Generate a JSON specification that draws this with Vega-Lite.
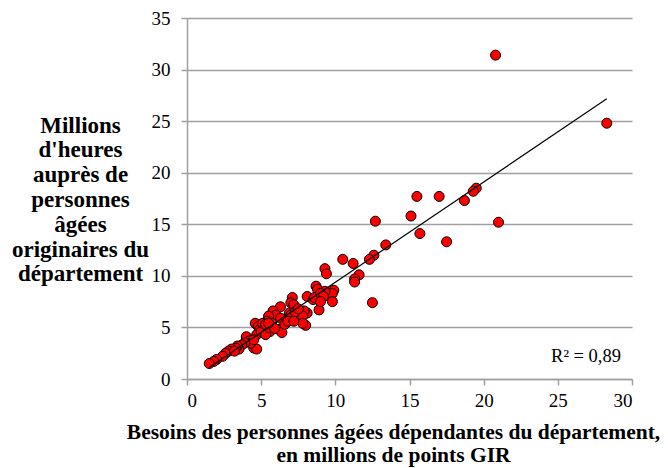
{
  "$schema": "https://vega.github.io/schema/vega-lite/v6.json",
  "width": 445,
  "height": 361,
  "autosize": {"type": "none"},
  "padding": {"left": 187, "top": 18, "right": 36, "bottom": 89},
  "background": "white",
  "config": {
    "view": {"stroke": null},
    "font": "Liberation Serif, Times New Roman, serif",
    "axis": {
      "labelFont": "Liberation Serif, Times New Roman, serif",
      "titleFont": "Liberation Serif, Times New Roman, serif",
      "labelFontSize": 19,
      "labelColor": "black",
      "titleColor": "black",
      "titleFontSize": 21.5,
      "titleFontWeight": "bold",
      "domainColor": "#a0a0a0",
      "domainWidth": 1.5,
      "tickColor": "#a0a0a0",
      "tickWidth": 1.5,
      "tickSize": 6,
      "gridColor": "#a0a0a0",
      "gridWidth": 1.5
    }
  },
  "datasets": {
    "pts": [
      {"x": 20.8, "y": 31.4}, {"x": 28.3, "y": 24.8}, {"x": 19.5, "y": 18.5}, {"x": 19.3, "y": 18.2},
      {"x": 18.7, "y": 17.3}, {"x": 17.0, "y": 17.7}, {"x": 15.5, "y": 17.7}, {"x": 15.1, "y": 15.8},
      {"x": 21.0, "y": 15.2}, {"x": 15.7, "y": 14.1}, {"x": 17.5, "y": 13.3}, {"x": 13.4, "y": 13.0},
      {"x": 12.7, "y": 15.3}, {"x": 12.6, "y": 12.0}, {"x": 12.3, "y": 11.6}, {"x": 10.5, "y": 11.6},
      {"x": 11.2, "y": 11.2}, {"x": 12.5, "y": 7.4}, {"x": 11.6, "y": 10.1}, {"x": 11.3, "y": 9.7},
      {"x": 11.3, "y": 9.4},
      {"x": 9.3, "y": 10.7}, {"x": 9.4, "y": 10.2}, {"x": 8.7, "y": 9.0}, {"x": 8.8, "y": 8.7},
      {"x": 9.6, "y": 8.3}, {"x": 9.9, "y": 8.6}, {"x": 9.8, "y": 8.3}, {"x": 9.8, "y": 7.5},
      {"x": 9.3, "y": 8.5}, {"x": 8.1, "y": 8.0}, {"x": 8.5, "y": 7.7}, {"x": 8.6, "y": 7.9},
      {"x": 9.0, "y": 8.3}, {"x": 9.2, "y": 8.0}, {"x": 8.9, "y": 6.7}, {"x": 9.0, "y": 7.5},
      {"x": 8.1, "y": 6.4}, {"x": 7.9, "y": 6.6}, {"x": 7.8, "y": 6.1}, {"x": 8.0, "y": 5.2},
      {"x": 7.8, "y": 5.4},
      {"x": 7.1, "y": 7.9}, {"x": 7.0, "y": 7.4}, {"x": 7.2, "y": 7.2}, {"x": 6.3, "y": 7.0},
      {"x": 6.9, "y": 6.4}, {"x": 6.5, "y": 5.8}, {"x": 7.0, "y": 6.2}, {"x": 7.3, "y": 6.5},
      {"x": 7.5, "y": 6.8}, {"x": 5.8, "y": 6.6}, {"x": 6.0, "y": 6.2}, {"x": 6.3, "y": 5.9},
      {"x": 6.2, "y": 4.8}, {"x": 6.4, "y": 4.5}, {"x": 6.6, "y": 5.3}, {"x": 6.8, "y": 5.6},
      {"x": 7.2, "y": 5.6},
      {"x": 5.5, "y": 6.1}, {"x": 5.4, "y": 5.6}, {"x": 5.7, "y": 5.4}, {"x": 4.6, "y": 5.4},
      {"x": 4.8, "y": 5.1}, {"x": 4.9, "y": 4.8}, {"x": 5.2, "y": 5.0}, {"x": 5.6, "y": 4.6},
      {"x": 4.7, "y": 4.3}, {"x": 5.0, "y": 4.6}, {"x": 5.3, "y": 4.3}, {"x": 5.5, "y": 5.0},
      {"x": 5.9, "y": 4.9}, {"x": 5.1, "y": 5.4}, {"x": 5.3, "y": 5.3}, {"x": 5.5, "y": 5.4},
      {"x": 4.5, "y": 3.0}, {"x": 4.7, "y": 2.9},
      {"x": 4.0, "y": 4.0}, {"x": 4.0, "y": 4.1}, {"x": 4.2, "y": 3.7}, {"x": 4.3, "y": 3.5},
      {"x": 3.9, "y": 3.5}, {"x": 3.7, "y": 3.3}, {"x": 3.5, "y": 2.9}, {"x": 3.4, "y": 3.2},
      {"x": 3.3, "y": 3.0}, {"x": 3.0, "y": 2.9}, {"x": 2.8, "y": 2.7}, {"x": 2.6, "y": 2.5},
      {"x": 2.4, "y": 2.2}, {"x": 2.0, "y": 1.9}, {"x": 1.8, "y": 1.7}, {"x": 1.5, "y": 1.5},
      {"x": 3.2, "y": 2.7}, {"x": 4.5, "y": 3.8}
    ],
    "lbl": [{"x": 26.9, "y": 2.2, "label": "R² = 0,89"}]
  },
  "encoding": {
    "x": {
      "field": "x", "type": "quantitative",
      "scale": {"domain": [0, 30], "nice": false, "zero": true},
      "axis": {
        "values": [0, 5, 10, 15, 20, 25, 30],
        "grid": false,
        "labelPadding": 6,
        "title": ["Besoins des personnes âgées dépendantes du département,", "en millions de points GIR"],
        "titleLineHeight": 23,
        "titleAnchor": "start",
        "titleAlign": "center",
        "titleBaseline": "middle",
        "titleX": 206,
        "titleY": 53
      }
    },
    "y": {
      "field": "y", "type": "quantitative",
      "scale": {"domain": [0, 35], "nice": false},
      "axis": {
        "values": [0, 5, 10, 15, 20, 25, 30, 35],
        "grid": true,
        "labelPadding": 11,
        "title": ["Millions", "d'heures", "auprès de", "personnes", "âgées", "originaires du", "département"],
        "titleFontSize": 23,
        "titleAngle": 0,
        "titleAlign": "center",
        "titleBaseline": "middle",
        "titleLineHeight": 24.8,
        "titleX": -107,
        "titleY": 107
      }
    }
  },
  "layer": [
    {
      "data": {"name": "pts"},
      "mark": {"type": "point", "shape": "circle", "filled": true, "fill": "#ff0000", "stroke": "black", "strokeWidth": 1, "size": 100, "opacity": 1}
    },
    {
      "data": {"name": "pts"},
      "transform": [{"regression": "y", "on": "x", "method": "linear"}],
      "mark": {"type": "line", "color": "black", "strokeWidth": 1.2}
    },
    {
      "data": {"name": "lbl"},
      "mark": {"type": "text", "font": "Liberation Serif, Times New Roman, serif", "fontSize": 18.5, "color": "black", "align": "center", "baseline": "middle"},
      "encoding": {"text": {"field": "label"}}
    }
  ]
}
